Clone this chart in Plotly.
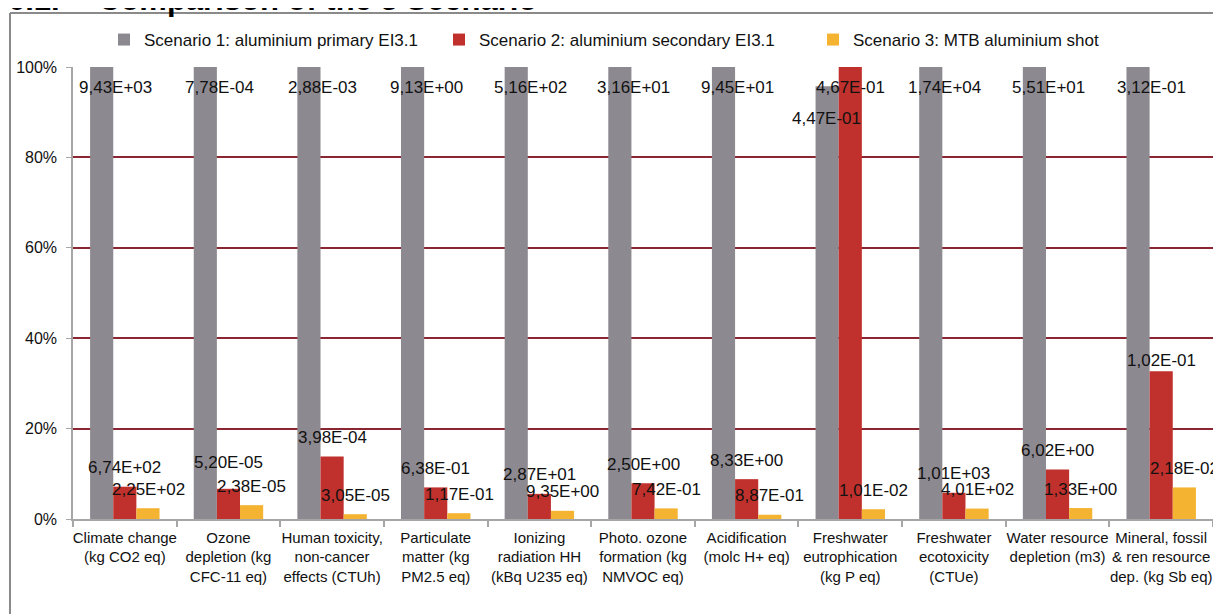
import plotly.graph_objects as go

categories = [
    "Climate change<br>(kg CO2 eq)",
    "Ozone<br>depletion (kg<br>CFC-11 eq)",
    "Human toxicity,<br>non-cancer<br>effects (CTUh)",
    "Particulate<br>matter (kg<br>PM2.5 eq)",
    "Ionizing<br>radiation HH<br>(kBq U235 eq)",
    "Photo. ozone<br>formation (kg<br>NMVOC eq)",
    "Acidification<br>(molc H+ eq)",
    "Freshwater<br>eutrophication<br>(kg P eq)",
    "Freshwater<br>ecotoxicity<br>(CTUe)",
    "Water resource<br>depletion (m3)",
    "Mineral, fossil<br>& ren resource<br>dep. (kg Sb eq)",
]

scenario1 = [9.43e3, 7.78e-4, 2.88e-3, 9.13e0, 5.16e2, 3.16e1, 9.45e1, 4.47e-1, 1.74e4, 5.51e1, 3.12e-1]
scenario2 = [6.74e2, 5.20e-5, 3.98e-4, 6.38e-1, 2.87e1, 2.50e0, 8.33e0, 4.67e-1, 1.01e3, 6.02e0, 1.02e-1]
scenario3 = [2.25e2, 2.38e-5, 3.05e-5, 1.17e-1, 9.35e0, 7.42e-1, 8.87e-1, 1.01e-2, 4.01e2, 1.33e0, 2.18e-2]

series_names = [
    "Scenario 1: aluminium primary EI3.1",
    "Scenario 2: aluminium secondary EI3.1",
    "Scenario 3: MTB aluminium shot",
]

y_tick_vals = [0, 0.2, 0.4, 0.6, 0.8, 1.0]

# ---- layout / style (pixels in figure coordinates) ----
W, H = 1213, 606
ML, MR, MT, MB = 65, 0, 59, 95
PW, PH = W - ML - MR, H - MT - MB
BARGAP = 0.33
colors = ["#8D8990", "#C0312D", "#F4B331"]
FONT = "Liberation Sans, Arial, sans-serif"
legend_x_px = [96, 431, 805]
legend_y_px = 32

# percentage of the largest scenario in each category
series = [scenario1, scenario2, scenario3]
maxes = [max(a, b, c) for a, b, c in zip(scenario1, scenario2, scenario3)]
pcts = [[v / m for v, m in zip(s, maxes)] for s in series]


def fmt(v):
    return f"{v:.2E}".replace(".", ",")


def px_x(px):
    return (px - ML) / PW


def px_y(py):
    return (H - MB - py) / PH


legend_ids = ["legend", "legend2", "legend3"]

fig = go.Figure()
for name, p, col, lid in zip(series_names, pcts, colors, legend_ids):
    fig.add_trace(go.Bar(x=categories, y=p, name=name, marker_color=col,
                         marker_line_width=0, hoverinfo="skip", legend=lid))

bw = PW / len(categories) * (1 - BARGAP) / 3  # bar width in px
label_nudge = {(1, 1): 7, (10, 1): -8}  # extra vertical shift of a few labels (px)

annotations = []
for si, (s, p) in enumerate(zip(series, pcts)):
    for ci, (v, pv) in enumerate(zip(s, p)):
        xs = (si - 1) * bw
        if pv >= 0.999:
            ys = -20
            if si == 0:
                xs += 14
        elif si == 0:
            ys = -32
        else:
            ys = 19 + label_nudge.get((ci, si), 0)
        annotations.append(dict(x=categories[ci], y=pv, xref="x", yref="y",
                                text=fmt(v), showarrow=False, xshift=xs, yshift=ys,
                                xanchor="center", yanchor="middle",
                                font=dict(size=17, color="#111111", family=FONT)))

# cut-off document heading above the chart frame
annotations.append(dict(x=px_x(-2), y=px_y(11), xref="paper", yref="paper", text="<b>6.1.</b>",
                        showarrow=False, xanchor="left", yanchor="bottom",
                        font=dict(size=31, color="#000000", family=FONT)))
annotations.append(dict(x=px_x(88), y=px_y(11), xref="paper", yref="paper",
                        text="<b>Comparison of the 3 Scenario</b>",
                        showarrow=False, xanchor="left", yanchor="bottom",
                        font=dict(size=31, color="#000000", family=FONT)))

shapes = [
    dict(type="line", xref="paper", yref="paper", x0=px_x(2), x1=px_x(2),
         y0=px_y(H + 5), y1=px_y(5), line=dict(color="#8A8A8A", width=2)),
    dict(type="line", xref="paper", yref="paper", x0=px_x(2), x1=px_x(W + 5),
         y0=px_y(5), y1=px_y(5), line=dict(color="#8A8A8A", width=2)),
]

legend_style = dict(orientation="h", y=px_y(legend_y_px), xanchor="left", yanchor="middle",
                    font=dict(size=17, color="#111111", family=FONT),
                    bgcolor="rgba(0,0,0,0)", itemclick=False, itemdoubleclick=False)

fig.update_layout(
    width=W, height=H,
    margin=dict(l=ML, r=MR, t=MT, b=MB, autoexpand=False),
    paper_bgcolor="white", plot_bgcolor="white",
    barmode="group", bargap=BARGAP, bargroupgap=0,
    font=dict(family=FONT, size=15, color="#111111"),
    showlegend=True,
    legend=dict(x=px_x(legend_x_px[0]), **legend_style),
    legend2=dict(x=px_x(legend_x_px[1]), **legend_style),
    legend3=dict(x=px_x(legend_x_px[2]), **legend_style),
    annotations=annotations,
    shapes=shapes,
)

fig.update_xaxes(
    type="category", showline=True, linecolor="#A6A6A6", linewidth=1.5,
    ticks="outside", tickson="boundaries", ticklen=6, tickcolor="#A6A6A6", tickwidth=1.5,
    tickfont=dict(size=15, color="#111111"), showgrid=False, automargin=False,
    tickangle=0, ticklabelstandoff=4,
)
fig.update_yaxes(
    range=[0, 1], tickvals=y_tick_vals, tickformat=".0%",
    showline=True, linecolor="#A6A6A6", linewidth=1.5,
    ticks="outside", ticklen=5, tickcolor="#A6A6A6",
    showgrid=True, gridcolor="#8C2532", gridwidth=2, zeroline=False,
    tickfont=dict(size=16, color="#111111"), automargin=False, ticklabelstandoff=6,
)

fig.write_html("out.html")
